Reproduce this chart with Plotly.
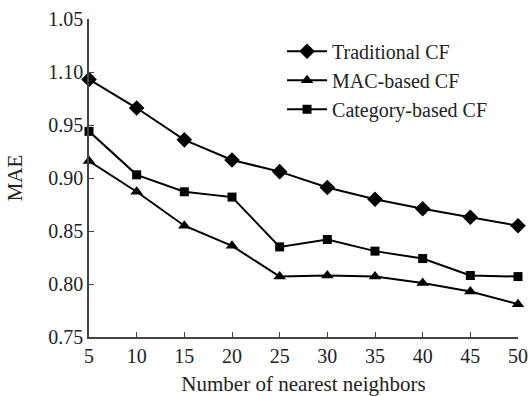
import plotly.graph_objects as go

neighbors = [5, 10, 15, 20, 25, 30, 35, 40, 45, 50]
traditional_cf = [0.993, 0.966, 0.936, 0.917, 0.906, 0.891, 0.880, 0.871, 0.863, 0.855]
mac_based_cf = [0.916, 0.887, 0.855, 0.836, 0.807, 0.808, 0.807, 0.801, 0.793, 0.781]
category_based_cf = [0.944, 0.903, 0.887, 0.882, 0.835, 0.842, 0.831, 0.824, 0.808, 0.807]

y_tickvals = [0.75, 0.80, 0.85, 0.90, 0.95, 1.00, 1.05]
y_ticktext = ["0.75", "0.80", "0.85", "0.90", "0.95", "1.10", "1.05"]
x_tickvals = neighbors

font_family = "Liberation Serif, Times New Roman, serif"

fig = go.Figure()
series = [
    ("Traditional CF", traditional_cf, "diamond", 12),
    ("MAC-based CF", mac_based_cf, "triangle-up", 11),
    ("Category-based CF", category_based_cf, "square", 9),
]
for name, vals, sym, sz in series:
    fig.add_trace(go.Scatter(
        x=neighbors, y=vals, name=name, mode="lines+markers",
        line=dict(color="black", width=2),
        marker=dict(symbol=sym, size=sz, color="black"),
        cliponaxis=False,
    ))

fig.update_layout(
    width=528, height=396,
    margin=dict(l=89, r=10, t=19, b=59),
    paper_bgcolor="white", plot_bgcolor="white",
    font=dict(family=font_family, size=20, color="#222"),
    showlegend=True,
    legend=dict(x=0.45, y=0.96, xanchor="left", yanchor="top",
                bgcolor="rgba(0,0,0,0)", font=dict(size=20),
                tracegroupgap=0, itemwidth=40),
    xaxis=dict(range=[5, 50], tickvals=x_tickvals, showgrid=False, zeroline=False,
               showline=True, linecolor="#444", linewidth=1.5,
               ticks="inside", ticklen=5, tickcolor="#444", automargin=False,
               title=dict(text="Number of nearest neighbors", standoff=12,
                          font=dict(size=21)),
               tickfont=dict(size=20)),
    yaxis=dict(range=[0.75, 1.05], tickvals=y_tickvals, ticktext=y_ticktext,
               showgrid=False, zeroline=False, automargin=False,
               showline=True, linecolor="#444", linewidth=1.5,
               ticks="inside", ticklen=5, tickcolor="#444",
               title=dict(text="MAE", standoff=20, font=dict(size=21)),
               tickfont=dict(size=20)),
)

# remove the browser's default 8px body margin so the figure fills the window
fig.write_html("out.html",
               config={"displayModeBar": False},
               post_script="document.body.style.margin='0';document.body.style.overflow='hidden';")
